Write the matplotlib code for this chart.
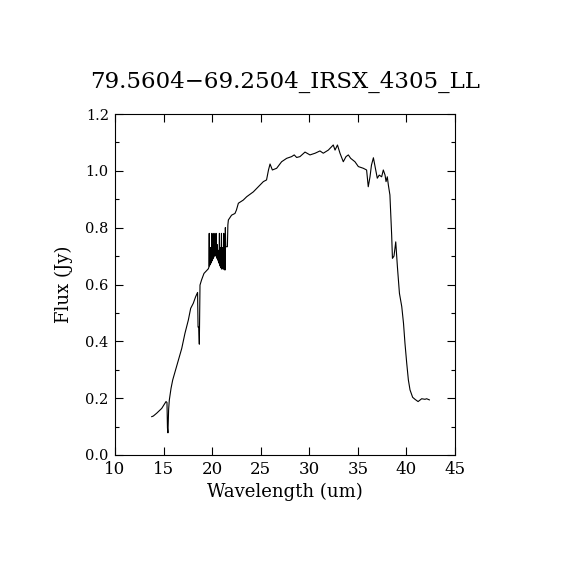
import matplotlib
matplotlib.use("Agg")
import matplotlib.pyplot as plt
from matplotlib.ticker import MultipleLocator, FormatStrFormatter

title = "79.5604\u221269.2504_IRSX_4305_LL"
xlabel = "Wavelength (um)"
ylabel = "Flux (Jy)"

wave = [13.78, 13.94, 14.29, 14.81, 15.25, 15.35, 15.40, 15.45, 15.52, 15.59,
        15.77, 15.94, 16.18, 16.53, 16.87, 17.20, 17.55, 17.79, 18.06, 18.30,
        18.50, 18.55, 18.62, 18.68, 18.75, 18.91, 19.16, 19.50, 19.60, 19.66,
        19.70, 19.73, 19.77, 19.80, 19.84, 19.87, 19.91, 19.94, 19.98, 20.01,
        20.05, 20.08, 20.12, 20.15, 20.19, 20.22, 20.26, 20.29, 20.33, 20.36,
        20.40, 20.43, 20.47, 20.50, 20.54, 20.57, 20.61, 20.64, 20.68, 20.71,
        20.75, 20.78, 20.82, 20.85, 20.89, 20.92, 20.96, 21.00, 21.05, 21.10,
        21.15, 21.20, 21.25, 21.30, 21.33, 21.36, 21.40, 21.57, 21.62, 21.67,
        22.00, 22.35, 22.50, 22.70, 23.20, 23.56, 24.24, 24.76, 25.27, 25.60,
        25.80, 25.96, 26.20, 26.64, 27.15, 27.67, 28.18, 28.45, 28.70, 29.04,
        29.56, 30.07, 30.60, 31.10, 31.44, 31.96, 32.30, 32.47, 32.65, 32.90,
        33.16, 33.50, 33.78, 34.02, 34.26, 34.70, 35.05, 35.56, 35.90, 36.07,
        36.25, 36.40, 36.60, 36.77, 37.00, 37.20, 37.45, 37.62, 37.80, 37.90,
        38.03, 38.14, 38.30, 38.48, 38.56, 38.72, 38.90, 39.07, 39.28, 39.52,
        39.70, 39.85, 40.03, 40.20, 40.37, 40.64, 40.88, 41.20, 41.57, 41.91,
        42.08, 42.36]

flux = [0.135, 0.137, 0.147, 0.164, 0.188, 0.185, 0.095, 0.078, 0.160, 0.193,
        0.235, 0.264, 0.293, 0.334, 0.375, 0.428, 0.475, 0.516, 0.534, 0.557,
        0.572, 0.450, 0.450, 0.390, 0.598, 0.616, 0.639, 0.651, 0.655, 0.660,
        0.780, 0.665, 0.700, 0.670, 0.730, 0.675, 0.720, 0.680, 0.780, 0.685,
        0.740, 0.690, 0.720, 0.695, 0.780, 0.700, 0.730, 0.703, 0.720, 0.704,
        0.780, 0.698, 0.730, 0.692, 0.740, 0.687, 0.720, 0.682, 0.720, 0.675,
        0.780, 0.668, 0.730, 0.663, 0.720, 0.658, 0.780, 0.654, 0.730, 0.720,
        0.655, 0.780, 0.652, 0.740, 0.651, 0.800, 0.733, 0.733, 0.810, 0.827,
        0.844, 0.850, 0.862, 0.886, 0.897, 0.909, 0.926, 0.944, 0.962, 0.968,
        1.003, 1.024, 1.003, 1.009, 1.032, 1.044, 1.050, 1.056, 1.047, 1.050,
        1.066, 1.056, 1.062, 1.070, 1.062, 1.073, 1.085, 1.091, 1.073, 1.091,
        1.062, 1.032, 1.050, 1.056, 1.044, 1.032, 1.015, 1.009, 1.003, 0.944,
        0.979, 1.020, 1.046, 1.015, 0.974, 0.985, 0.979, 1.003, 0.985, 0.962,
        0.979, 0.950, 0.915, 0.774, 0.692, 0.700, 0.750, 0.663, 0.569, 0.522,
        0.463, 0.393, 0.323, 0.264, 0.229, 0.203, 0.196, 0.188, 0.198, 0.196,
        0.198, 0.194]

plt.rcParams['font.family'] = ['DejaVu Serif']

fig = plt.figure(figsize=(5.7, 5.7), dpi=100)
ax = fig.add_axes([115/570, 115/570, 340/570, 341/570])
ax.plot(wave, flux, color='black', linewidth=0.8)
ax.set_xlim(10, 45)
ax.set_ylim(0, 1.2)
ax.xaxis.set_major_locator(MultipleLocator(5))
ax.yaxis.set_major_locator(MultipleLocator(0.2))
ax.yaxis.set_minor_locator(MultipleLocator(0.1))
ax.yaxis.set_major_formatter(FormatStrFormatter('%.1f'))
ax.tick_params(axis='both', which='both', direction='in', top=True, right=True,
               width=0.8, color='black')
ax.tick_params(axis='both', which='major', length=6)
ax.tick_params(axis='y', which='minor', length=3)
ax.tick_params(axis='x', labelsize=12, pad=4)
ax.tick_params(axis='y', labelsize=10.5, pad=4.5)
for s in ax.spines.values():
    s.set_linewidth(0.8)
ax.set_xlabel(xlabel, fontsize=13, labelpad=4)
ax.set_ylabel(ylabel, fontsize=13, labelpad=9)
fig.text(285/570, 1 - 82/570, title, ha='center', va='center', fontsize=16.5)
fig.savefig('out.png', dpi=100, facecolor='white')
